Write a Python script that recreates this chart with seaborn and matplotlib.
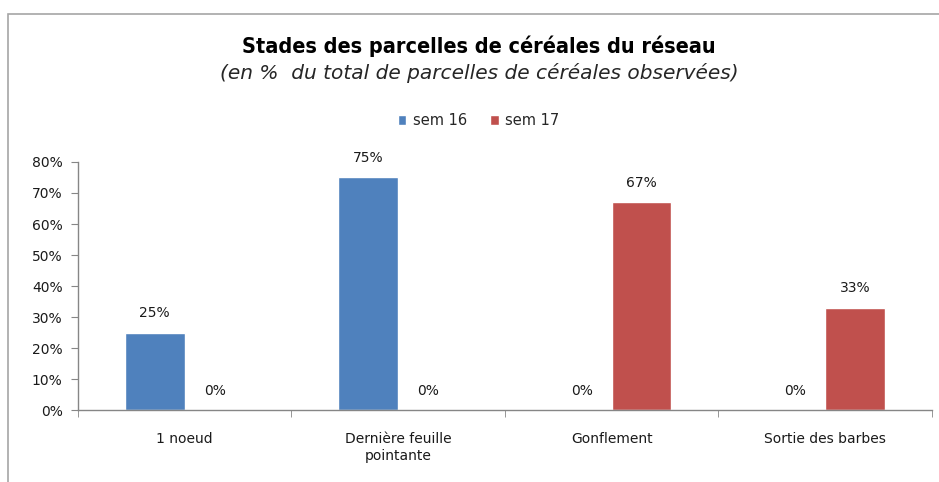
import pandas as pd
import matplotlib.pyplot as plt
import seaborn as sns
from matplotlib.patches import Rectangle
from matplotlib.ticker import PercentFormatter, FixedLocator

# data
stades = ["1 noeud", "Dernière feuille\npointante", "Gonflement", "Sortie des barbes"]
sem16 = [25, 75, 0, 0]
sem17 = [0, 0, 67, 33]
series = ["sem 16", "sem 17"]
colors = ["#4F81BD", "#C0504D"]

df = pd.DataFrame({
    "stade": stades * 2,
    "pct": sem16 + sem17,
    "semaine": [series[0]] * len(stades) + [series[1]] * len(stades),
})

sns.set_style("white")
plt.rcParams["font.family"] = ["DejaVu Sans"]

fig = plt.figure(figsize=(9.39, 4.82), dpi=100)
ax = fig.add_axes([0.083, 0.149, 0.9095, 0.515])

sns.barplot(data=df, x="stade", y="pct", hue="semaine", palette=colors,
            width=0.56, saturation=1, ax=ax, legend=True)

for cont in ax.containers:
    ax.bar_label(cont, labels=[f"{v:.0f}%" for v in cont.datavalues],
                 padding=9, fontsize=10, color="#1a1a1a")

ax.set_ylim(0, 80)
ax.set_yticks(range(0, 81, 10))
ax.yaxis.set_major_formatter(PercentFormatter(100, decimals=0))
ax.set_xlim(-0.5, len(stades) - 0.5)
ax.set_xlabel("")
ax.set_ylabel("")

# category boundary tick marks, labels centred
ax.set_xticks(range(len(stades)))
ax.set_xticklabels(stades, fontsize=10, color="#1a1a1a")
ax.tick_params(axis="x", length=0, pad=16)
ax.xaxis.set_minor_locator(FixedLocator([i - 0.5 for i in range(len(stades) + 1)]))
ax.tick_params(axis="x", which="minor", length=5, direction="out", color="#868686", bottom=True)
ax.tick_params(axis="y", length=5, direction="out", color="#868686", left=True,
               labelsize=10, labelcolor="#1a1a1a", pad=6)

for side in ["top", "right"]:
    ax.spines[side].set_visible(False)
for side in ["left", "bottom"]:
    ax.spines[side].set_color("#868686")
    ax.spines[side].set_linewidth(1)

ax.legend(loc="center", bbox_to_anchor=(0.51, 0.75), bbox_transform=fig.transFigure,
          ncol=2, frameon=False, fontsize=10.5, handlelength=0.55, handleheight=0.75,
          handletextpad=0.45, columnspacing=1.6)

fig.text(0.51, 0.905, "Stades des parcelles de céréales du réseau", ha="center", va="center",
         fontsize=15.5, fontweight="bold", fontstretch="condensed", color="#000000")
fig.text(0.51, 0.848, "(en %  du total de parcelles de céréales observées)", ha="center",
         va="center", fontsize=14.5, style="italic", color="#262626")

# chart frame
fig.patches.append(Rectangle((0.009, -0.02), 1.1, 0.99, transform=fig.transFigure,
                             fill=False, edgecolor="#A6A6A6", linewidth=1.2))

fig.savefig("out.png", dpi=100, facecolor="white")
